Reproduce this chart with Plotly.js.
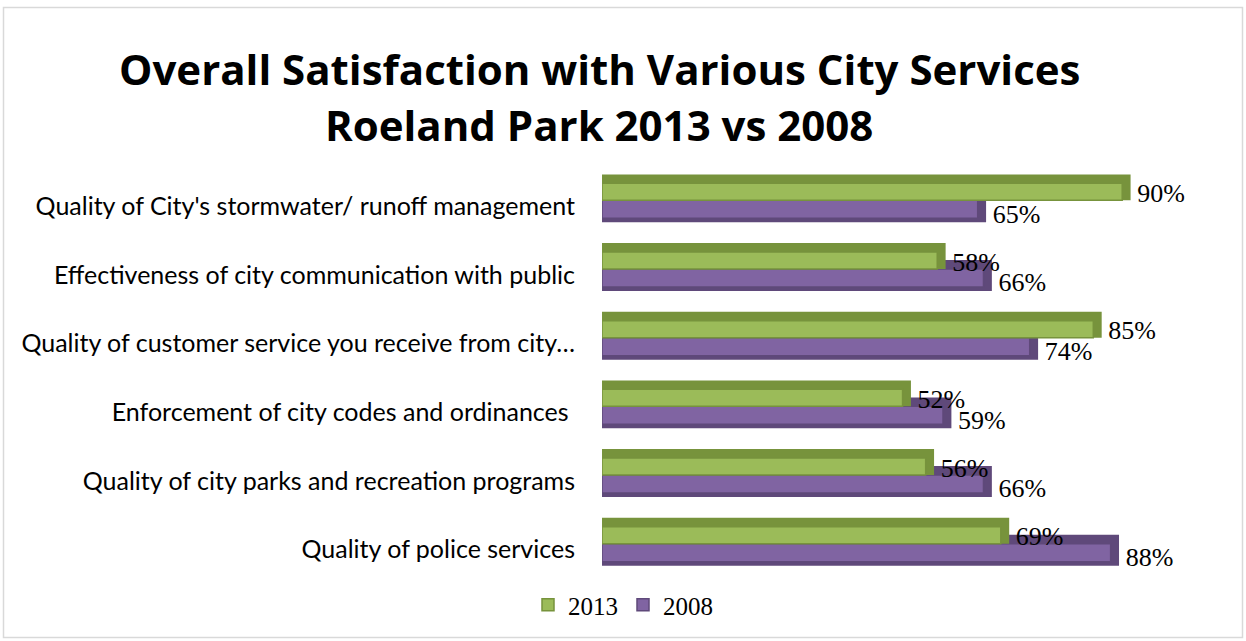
<!DOCTYPE html>
<html>
<head>
<meta charset="utf-8">
<script src="https://cdn.plot.ly/plotly-3.0.1.min.js"></script>
<style>
html,body{margin:0;padding:0;background:#fff;}
#chart{width:1246px;height:641px;}
</style>
</head>
<body>
<div id="chart"></div>
<script>
// ---- data (top to bottom as shown) ----
const categories = [
  "Quality of City's stormwater/ runoff management",
  "Effectiveness of city communication with public",
  "Quality of customer service you receive from city…",
  "Enforcement of city codes and ordinances\u00a0",
  "Quality of city parks and recreation programs",
  "Quality of police services"
];
const values2013 = [90, 58, 85, 52, 56, 69];
const values2008 = [65, 66, 74, 59, 66, 88];
const seriesNames = ["2013", "2008"];
const titleLines = ["Overall Satisfaction with Various City Services", "Roeland Park 2013 vs 2008"];

// ---- layout geometry ----
const W = 1246, H = 641;
const M = {l: 602, r: 66, t: 166, b: 63};
const plotW = W - M.l - M.r, plotH = H - M.t - M.b;
const pxX = px => (px - M.l) / plotW;
const pxY = py => (H - M.b - py) / plotH;

const green = '#9BBB59', greenDark = '#77933C';
const purple = '#8064A2', purpleDark = '#5F497A';
const depth = 1.45;     // 3D side depth in axis units
const labelGap = 2.6;   // label distance in axis units

const yCats = categories.slice().reverse();
const v13 = values2013.slice().reverse();
const v08 = values2008.slice().reverse();

function barTrace(vals, opts) {
  return Object.assign({
    type: 'bar', orientation: 'h', y: yCats, x: vals,
    showlegend: false, hoverinfo: 'skip', cliponaxis: false
  }, opts);
}

const traces = [
  // 2008 depth (top/side/bottom faces)
  barTrace(v08.map(v => v + depth), {offset: -0.32, width: 0.45, marker: {color: purpleDark, line: {width: 0}}}),
  // 2008 front
  barTrace(v08, {name: seriesNames[1], showlegend: true, legendrank: 2, hoverinfo: 'x+name',
    offset: -0.262, width: 0.262, marker: {color: purple, line: {color: purpleDark, width: 1.5}}}),
  // 2013 depth
  barTrace(v13.map(v => v + depth), {offset: 0, width: 0.378, marker: {color: greenDark, line: {width: 0}}}),
  // 2013 front
  barTrace(v13, {name: seriesNames[0], showlegend: true, legendrank: 1, hoverinfo: 'x+name',
    offset: 0, width: 0.247, marker: {color: green, line: {color: greenDark, width: 1.5}}}),
  // labels 2013
  barTrace(v13.map(v => v + labelGap), {offset: 0.06, width: 0.08, marker: {color: 'rgba(0,0,0,0)'},
    text: v13.map(v => v + '%'), textposition: 'outside', constraintext: 'none',
    textfont: {family: 'Liberation Serif', size: 26, color: '#000'}}),
  // labels 2008
  barTrace(v08.map(v => v + labelGap), {offset: -0.24, width: 0.08, marker: {color: 'rgba(0,0,0,0)'},
    text: v08.map(v => v + '%'), textposition: 'outside', constraintext: 'none',
    textfont: {family: 'Liberation Serif', size: 26, color: '#000'}})
];

const layout = {
  width: W, height: H,
  margin: M,
  paper_bgcolor: '#fff', plot_bgcolor: '#fff',
  barmode: 'overlay',
  showlegend: true,
  xaxis: {range: [0, 100], visible: false, fixedrange: true},
  yaxis: {
    type: 'category', categoryorder: 'array', categoryarray: yCats,
    range: [-0.5, yCats.length - 0.5],
    showgrid: false, zeroline: false, showline: false, ticks: '',
    ticklabelstandoff: 26, ticklabelshift: 6,
    tickfont: {family: 'Lato', size: 25, color: '#000'}
  },
  legend: {
    orientation: 'h', xref: 'container', yref: 'container',
    x: 0.5, xanchor: 'center', y: 1 - 605 / H, yanchor: 'middle',
    font: {family: 'Liberation Serif', size: 25, color: '#000'},
    itemwidth: 30, tracegroupgap: 0
  },
  annotations: [
    {text: '<b>' + titleLines[0] + '</b>', xref: 'paper', yref: 'paper', x: pxX(599), y: pxY(68),
     xanchor: 'center', yanchor: 'middle', showarrow: false,
     font: {family: 'Open Sans', size: 42, color: '#000'}},
    {text: '<b>' + titleLines[1] + '</b>', xref: 'paper', yref: 'paper', x: pxX(599), y: pxY(124),
     xanchor: 'center', yanchor: 'middle', showarrow: false,
     font: {family: 'Open Sans', size: 42, color: '#000'}}
  ],
  shapes: [
    {type: 'rect', xref: 'paper', yref: 'paper', x0: pxX(3.5), x1: pxX(1242.5), y0: pxY(637.5), y1: pxY(7.5),
     line: {color: '#D9D9D9', width: 1.5}, fillcolor: 'rgba(0,0,0,0)', layer: 'below'}
  ]
};

Plotly.newPlot('chart', traces, layout, {staticPlot: true, displayModeBar: false});
</script>
</body>
</html>
